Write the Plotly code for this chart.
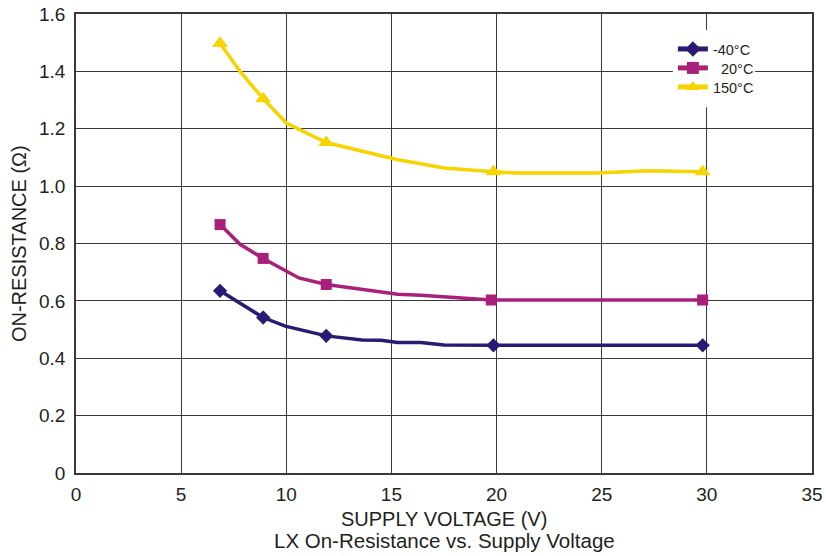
import plotly.graph_objects as go

# ---- data ----
series_names = ["-40°C", "\u00a0\u00a020°C", "150°C"]

v_m40 = [6.85, 8.9, 9.95, 11.9, 13.6, 14.5, 15.3, 16.4, 17.5, 19.85, 29.8]
r_m40 = [0.635, 0.542, 0.512, 0.478, 0.464, 0.463, 0.455, 0.455, 0.446, 0.445, 0.445]
mk_m40 = [1, 1, 0, 1, 0, 0, 0, 0, 0, 1, 1]

v_20 = [6.85, 7.8, 8.9, 10.6, 11.9, 15.3, 16.4, 19.75, 29.8]
r_20 = [0.866, 0.797, 0.748, 0.680, 0.657, 0.623, 0.620, 0.603, 0.603]
mk_20 = [1, 0, 1, 0, 1, 0, 0, 1, 1]

v_150 = [6.85, 7.8, 8.9, 10.0, 11.9, 13.65, 15.3, 16.4, 17.5, 19.85, 20.9, 24.8, 27.2, 29.8]
r_150 = [1.498, 1.400, 1.305, 1.220, 1.152, 1.121, 1.092, 1.078, 1.063, 1.050, 1.046, 1.046, 1.054, 1.050]
mk_150 = [1, 0, 1, 0, 1, 0, 0, 0, 0, 1, 0, 0, 0, 1]

x_ticks = [0, 5, 10, 15, 20, 25, 30, 35]
y_ticks = [0, 0.2, 0.4, 0.6, 0.8, 1.0, 1.2, 1.4, 1.6]
y_ticktext = ["0", "0.2", "0.4", "0.6", "0.8", "1.0", "1.2", "1.4", "1.6"]

x_title = "SUPPLY VOLTAGE (V)"
y_title = "ON-RESISTANCE (Ω)"
caption = "LX On-Resistance vs. Supply Voltage"

colors = ["#2a1a74", "#a8207a", "#f5d400"]
symbols = ["diamond", "square", "triangle-up"]
msizes = [11, 11, 14]
legend_ids = ["legend", "legend2", "legend3"]
legend_ys = [0.9237, 0.8824, 0.8410]

FONT = "Liberation Sans, Arial, sans-serif"
TXT = "#231f20"

fig = go.Figure()
for name, xs, ys, mk, c, s, ms, lg in zip(
    series_names,
    [v_m40, v_20, v_150],
    [r_m40, r_20, r_150],
    [mk_m40, mk_20, mk_150],
    colors, symbols, msizes, legend_ids,
):
    fig.add_trace(go.Scatter(
        x=xs, y=ys, name=name, mode="lines+markers", legend=lg,
        line=dict(color=c, width=3.5),
        marker=dict(symbol=s, color=c, size=[ms if m else 0 for m in mk],
                    opacity=1, line=dict(width=0)),
    ))

legend_style = dict(
    x=0.811, xanchor="left", yanchor="middle",
    bgcolor="rgba(255,255,255,0)", borderwidth=0,
    font=dict(size=14.5, family=FONT, color=TXT),
    itemsizing="constant", itemwidth=30,
)

# plot area: x 76..812, y 14..473 px
fig.update_layout(
    width=826, height=556,
    margin=dict(l=76, r=14, t=14, b=83),
    paper_bgcolor="white", plot_bgcolor="white",
    font=dict(family=FONT, size=18, color=TXT),
    showlegend=True,
    legend=dict(y=legend_ys[0], **legend_style),
    legend2=dict(y=legend_ys[1], **legend_style),
    legend3=dict(y=legend_ys[2], **legend_style),
    shapes=[
        # white backing behind the legend, hiding the grid there
        dict(type="rect", xref="paper", yref="paper",
             x0=0.811, x1=0.9226, y0=0.797, y1=0.965,
             fillcolor="white", line=dict(width=0), layer="above"),
    ],
    annotations=[
        dict(text=x_title, x=0.5, xref="paper", y=-0.100, yref="paper",
             yanchor="middle", showarrow=False,
             font=dict(size=20, family=FONT, color=TXT)),
        dict(text=caption, x=0.5, xref="paper", y=-0.148, yref="paper",
             yanchor="middle", showarrow=False,
             font=dict(size=20.5, family=FONT, color=TXT)),
        dict(text=y_title, x=-0.078, xref="paper", y=0.5, yref="paper",
             xanchor="center", yanchor="middle", textangle=-90, showarrow=False,
             font=dict(size=20, family=FONT, color=TXT)),
    ],
)

fig.update_xaxes(
    range=[0, 35], tickvals=x_ticks, ticks="", showgrid=True,
    gridcolor="#3a3a3a", gridwidth=1, showline=True, linecolor="#3a3a3a",
    linewidth=1.5, mirror=True, zeroline=False, automargin=False,
    tickfont=dict(size=19), ticklabelstandoff=3,
)
fig.update_yaxes(
    range=[0, 1.6], tickvals=y_ticks, ticktext=y_ticktext, ticks="",
    showgrid=True, gridcolor="#3a3a3a", gridwidth=1, showline=True,
    linecolor="#3a3a3a", linewidth=1.5, mirror=True, zeroline=False,
    automargin=False, tickfont=dict(size=19), ticklabelstandoff=5,
)

fig.write_html(
    "out.html",
    config={"displayModeBar": False},
    post_script="document.body.style.margin='0';document.body.style.overflow='hidden';",
)
